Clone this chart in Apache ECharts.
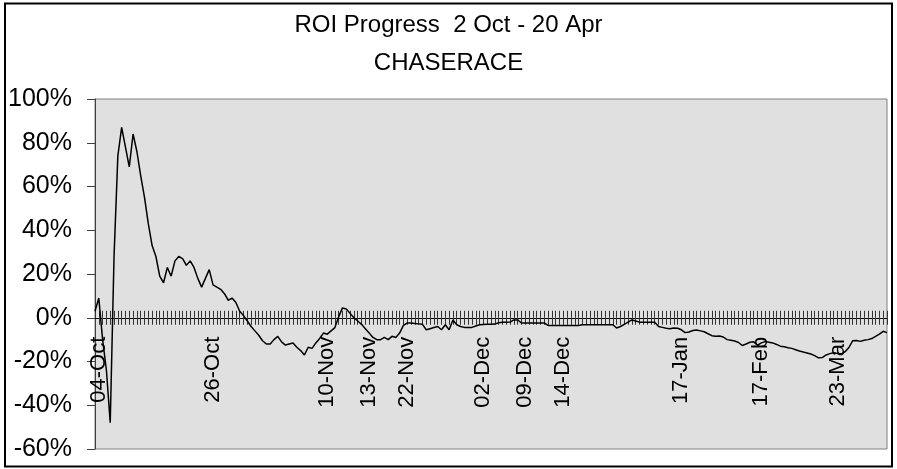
<!DOCTYPE html>
<html>
<head>
<meta charset="utf-8">
<script src="https://cdn.jsdelivr.net/npm/echarts@6/dist/echarts.min.js"></script>
<style>
html,body{margin:0;padding:0;background:#fff;}
#chart{width:897px;height:469px;}
</style>
</head>
<body>
<div id="chart"></div>
<script>
const titleLine1 = 'ROI Progress  2 Oct - 20 Apr';
const titleLine2 = 'CHASERACE';

// x positions (category index) that carry a date label, and their labels
const tickLabelIndex = [0, 1, 31, 61, 72, 82, 102, 113, 123, 154, 175, 195];
const tickLabels = ['04-Oct', '04-Oct', '26-Oct', '10-Nov', '13-Nov', '22-Nov', '02-Dec', '09-Dec', '14-Dec', '17-Jan', '17-Feb', '23-Mar'];

// ROI in percent, one value per point
const roi = [
  3, 9, -10, -24, -48, 28, 74, 87, 78, 69,
  84, 76, 65, 55, 43, 33, 28, 19, 16, 23,
  19, 26, 28, 27, 24, 26, 23, 18, 14, 18,
  22, 15, 14, 13, 11, 8, 9, 7, 3, 1,
  -1.5, -4, -6, -8, -10.5, -12, -12, -10, -8.5, -11,
  -12.5, -12, -11.5, -13.5, -15, -17, -13.5, -14, -11.5, -9.5,
  -7, -7.5, -6, -4.5, 0.5, 4.5, 4, 2, 0, -1.5,
  -3, -5, -7, -9, -10, -10, -9, -10, -8.5, -9,
  -7, -3.5, -2.4, -2.4, -2.6, -2.8, -3, -5.5, -5, -4.5,
  -4, -5.5, -3.2, -5.5, -1, -3.2, -4, -4.4, -4.4, -4.4,
  -3.8, -3.2, -3.1, -3, -3, -2.9, -2.3, -2.1, -2.1, -2,
  -1, -1, -2.4, -2.4, -2.4, -2.4, -2.4, -2.4, -2.4, -3.5,
  -3.5, -3.5, -3.5, -3.5, -3.5, -3.5, -3.5, -3.5, -3.2, -3.2,
  -3.2, -3.2, -3.2, -3.2, -3.2, -3.2, -3.2, -4.7, -4, -3,
  -2, -1, -1.5, -2, -2, -2, -2, -2, -4, -4.4,
  -4.8, -5, -4.7, -4.8, -5.5, -6.8, -6.5, -5.8, -5.6, -6,
  -6.4, -7.3, -8.2, -8.5, -8.3, -8.8, -10, -10.3, -10.6, -11.3,
  -12.7, -12, -11.2, -11, -12.5, -11.5, -10.9, -11.2, -11.5, -12.2,
  -13, -13.3, -13.7, -14, -14.6, -15.2, -15.7, -16.1, -16.6, -17.3,
  -18.3, -18.2, -17, -16.4, -16, -16.3, -16.6, -15.5, -13.6, -10.5,
  -10.4, -10.8, -10.3, -10, -9.5, -8.5, -7.5, -6.2, -6.8
];

const yMin = -60, yMax = 100, yStep = 20;

const categories = roi.map((_, i) => String(i));
const FONT = "'Liberation Sans', Arial, sans-serif";

const GRID = {left: 95, right: 10, top: 99, bottom: 20};
const plotH = 469 - GRID.top - GRID.bottom;
// move the category axis from the plot bottom up to the 0% level
const zeroOffset = -plotH * (0 - yMin) / (yMax - yMin);

const chart = echarts.init(document.getElementById('chart'), null, {renderer: 'canvas'});
chart.setOption({
  animation: false,
  backgroundColor: '#ffffff',
  title: [
    {text: titleLine1, left: 'center', top: 8,
     textStyle: {fontFamily: FONT, fontSize: 24, fontWeight: 'normal', color: '#000'}},
    {text: titleLine2, left: 'center', top: 46,
     textStyle: {fontFamily: FONT, fontSize: 24, fontWeight: 'normal', color: '#000'}}
  ],
  graphic: [{
    type: 'rect', silent: true, z: 100,
    shape: {x: 5, y: 3.5, width: 887, height: 463},
    style: {fill: null, stroke: '#000', lineWidth: 2}
  }],
  grid: {
    left: GRID.left, right: GRID.right, top: GRID.top, bottom: GRID.bottom,
    containLabel: false, outerBoundsMode: 'none',
    show: true, backgroundColor: '#e0e0e0', borderColor: '#808080', borderWidth: 1
  },
  xAxis: [
    {
      type: 'category', data: categories, boundaryGap: false, position: 'bottom', offset: zeroOffset,
      axisLine: {onZero: false, lineStyle: {color: '#000', width: 1}},
      axisTick: {show: true, interval: 0, length: 7, lineStyle: {color: '#333', width: 1}},
      axisLabel: {
        show: true, rotate: 90, margin: 19,
        interval: (idx) => tickLabelIndex.indexOf(idx) >= 0,
        formatter: (val, idx) => {
          const k = tickLabelIndex.indexOf(idx);
          return k >= 0 ? tickLabels[k] : '';
        },
        fontFamily: FONT, fontSize: 22, color: '#000'
      },
      splitLine: {show: false}
    },
    {
      type: 'category', data: categories, boundaryGap: false, position: 'bottom', offset: zeroOffset,
      axisLine: {onZero: false, lineStyle: {color: '#000', width: 1}},
      axisTick: {show: true, inside: true, interval: 0, length: 7, lineStyle: {color: '#333', width: 1}},
      axisLabel: {show: false},
      splitLine: {show: false}
    }
  ],
  yAxis: {
    type: 'value', min: yMin, max: yMax, interval: yStep,
    axisLine: {show: true, onZero: false, lineStyle: {color: '#404040', width: 1}},
    axisTick: {show: true, length: 8, lineStyle: {color: '#404040'}},
    axisLabel: {margin: 23, formatter: '{value}%', fontFamily: FONT, fontSize: 25, color: '#000'},
    splitLine: {show: false}
  },
  series: [{
    type: 'line', data: roi, xAxisIndex: 0, yAxisIndex: 0,
    showSymbol: false, symbol: 'none',
    lineStyle: {color: '#000', width: 1.5},
    z: 5
  }]
});
</script>
</body>
</html>
